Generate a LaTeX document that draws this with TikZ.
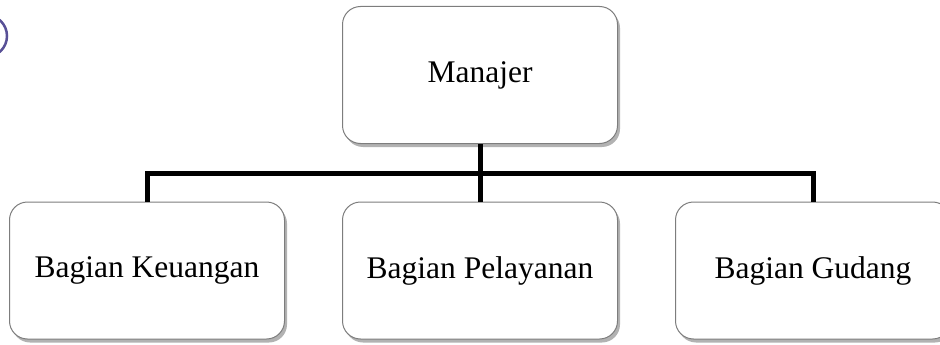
\documentclass[tikz,border=0pt]{standalone}
\usepackage{fontspec}
\setmainfont{Liberation Serif}
\usetikzlibrary{shadows}
\definecolor{ungu}{RGB}{88,80,150}
\definecolor{tepi}{RGB}{125,125,125}

\begin{document}
\begin{tikzpicture}[x=1pt, y=-1pt,
    kotak/.style={draw=tepi, line width=1pt, rounded corners=18pt, fill=white,
        minimum width=275pt, minimum height=137pt, inner sep=0pt,
        font=\fontsize{31.5}{38}\selectfont,
        drop shadow={shadow xshift=2.5pt, shadow yshift=-3.5pt, fill=black, opacity=0.3}},
    garis/.style={line width=5pt, line join=miter}]
    \useasboundingbox (0,0) rectangle (940,345);
    \clip (0,0) rectangle (940,345);
    \draw [ungu, line width=2.5pt] (-14,36) circle (21);
    \node[kotak] (man) at (480,75) {Manajer};
    \node[kotak] (kiri) at (147,270.5) {Bagian Keuangan};
    \node[kotak] (tengah) at (480,270.5) {Bagian Pelayanan};
    \node[kotak] (kanan) at (813,270.5) {Bagian Gudang};
    \coordinate (cab) at (480,173);
    \draw [garis] (man.south) -- (tengah.north);
    \draw [garis] (cab) -| (kiri.north);
    \draw [garis] (cab) -| (kanan.north);
\end{tikzpicture}
\end{document}
